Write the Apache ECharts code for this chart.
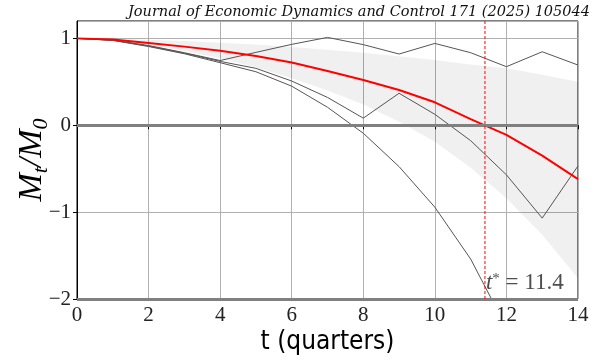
<!DOCTYPE html>
<html>
<head>
<meta charset="utf-8">
<script src="https://cdn.jsdelivr.net/npm/echarts@6/dist/echarts.min.js"></script>
<style>
  html, body { margin: 0; padding: 0; background: #fff; }
  #chart { width: 613px; height: 364px; }
</style>
</head>
<body>
<div id="chart"></div>
<script>
// Horizon in quarters
const quarters = [0, 1, 2, 3, 4, 5, 6, 7, 8, 9, 10, 11, 12, 13, 14];

// Expected path of M_t / M_0
const meanRatio = [1.0, 0.987, 0.947, 0.905, 0.857, 0.797, 0.722, 0.625, 0.52, 0.406, 0.264, 0.07, -0.111, -0.349, -0.62];

// Three simulated sample paths
const pathA = [1.0, 0.98, 0.918, 0.835, 0.745, 0.839, 0.931, 1.011, 0.928, 0.82, 0.942, 0.835, 0.674, 0.846, 0.693];
const pathB = [1.0, 0.978, 0.912, 0.83, 0.735, 0.655, 0.509, 0.32, 0.082, 0.368, 0.126, -0.177, -0.571, -1.069, -0.468];
const pathC = [1.0, 0.977, 0.906, 0.823, 0.72, 0.616, 0.45, 0.207, -0.092, -0.476, -0.943, -1.54, -2.33, -3.3, -4.4];

// Confidence band around the expected path
const bandLower = [1.0, 0.975, 0.925, 0.855, 0.77, 0.665, 0.54, 0.4, 0.24, 0.04, -0.19, -0.49, -0.84, -1.26, -1.76];
const bandUpper = [1.0, 0.995, 0.985, 0.97, 0.95, 0.93, 0.9, 0.87, 0.835, 0.795, 0.75, 0.70, 0.655, 0.58, 0.50];

// Crossing time and axis range
const tStar = 11.4;
const yMin = -2;
const yMax = 1.2;
const yTicks = [-2, -1, 0, 1];

const pairs = arr => quarters.map((t, i) => [t, arr[i]]);
const minus = v => (v < 0 ? '\u2212' + Math.abs(v) : String(v));

const serif = 'Liberation Serif';
const chart = echarts.init(document.getElementById('chart'), null, { renderer: 'canvas' });

chart.setOption({
  animation: false,
  backgroundColor: '#ffffff',
  title: {
    text: 'Journal of Economic Dynamics and Control 171 (2025) 105044',
    right: 18,
    top: 0,
    textStyle: { fontFamily: 'DejaVu Serif', fontStyle: 'italic', fontWeight: 'normal', fontSize: 14.5, color: '#111' }
  },
  grid: {
    left: 77, right: 35, top: 21, bottom: 65,
    outerBoundsMode: 'none', containLabel: false,
    show: true, borderColor: '#000', borderWidth: 1, backgroundColor: 'transparent'
  },
  xAxis: {
    type: 'value', min: 0, max: 14, interval: 2,
    name: 't (quarters)', nameLocation: 'middle', nameGap: 30, nameMoveOverlap: false,
    nameTextStyle: { fontFamily: 'DejaVu Sans Condensed, DejaVu Sans', fontSize: 26, color: '#000' },
    axisLine: { show: true, lineStyle: { color: '#000', width: 1 } },
    axisTick: { show: true, length: 4, lineStyle: { color: '#000' } },
    axisLabel: { fontFamily: serif, fontSize: 21, color: '#222', margin: 6, formatter: v => String(v) },
    splitLine: { show: true, lineStyle: { color: '#b0b0b0', width: 1 } }
  },
  yAxis: {
    type: 'value', min: yMin, max: yMax, interval: 1,
    name: '{m|M}{s|t}{m|/M}{s|0}', nameLocation: 'middle', nameGap: 25, nameRotate: 90, nameMoveOverlap: false,
    nameTextStyle: {
      rich: {
        m: { fontFamily: serif, fontStyle: 'italic', fontSize: 34, color: '#000' },
        s: { fontFamily: serif, fontStyle: 'italic', fontSize: 22, color: '#000', verticalAlign: 'bottom', padding: [18, 0, 0, 0] }
      }
    },
    axisLine: { show: true, lineStyle: { color: '#000', width: 1 } },
    axisTick: { show: true, length: 4, lineStyle: { color: '#000' } },
    axisLabel: { fontFamily: serif, fontSize: 21, color: '#222', margin: 6, showMaxLabel: false, formatter: v => (yTicks.includes(v) ? minus(v) : '') },
    splitLine: { show: true, lineStyle: { color: '#b0b0b0', width: 1 } }
  },
  series: [
    {
      // shaded band
      type: 'custom',
      z: 1,
      clip: true,
      data: quarters.map((t, i) => [t, bandLower[i], bandUpper[i]]),
      renderItem: function (params, api) {
        if (params.dataIndex !== 0) return null;
        const pts = [];
        quarters.forEach((t, i) => pts.push(api.coord([t, bandUpper[i]])));
        for (let i = quarters.length - 1; i >= 0; i--) pts.push(api.coord([quarters[i], bandLower[i]]));
        return { type: 'polygon', shape: { points: pts }, style: { fill: 'rgba(0,0,0,0.06)', stroke: null } };
      }
    },
    {
      // horizontal reference lines at 0 and at the lower edge
      type: 'line', data: [], z: 2, color: '#808080',
      markLine: {
        silent: true, symbol: 'none',
        label: { show: false },
        lineStyle: { color: '#808080', width: 3, type: 'solid' },
        data: [{ yAxis: 0 }, { yAxis: yMin }]
      }
    },
    { type: 'line', data: pairs(pathA), symbol: 'none', z: 3, color: '#555', lineStyle: { color: '#555', width: 1 } },
    { type: 'line', data: pairs(pathB), symbol: 'none', z: 3, color: '#555', lineStyle: { color: '#555', width: 1 } },
    { type: 'line', data: pairs(pathC), symbol: 'none', z: 3, color: '#555', clip: true, lineStyle: { color: '#555', width: 1 } },
    { type: 'line', data: pairs(meanRatio), symbol: 'none', z: 4, color: '#ff0000', lineStyle: { color: '#ff0000', width: 2 } },
    {
      // crossing time marker
      type: 'line', data: [[tStar, yMin], [tStar, yMax]], symbol: 'none', z: 5, silent: true,
      color: '#ff0000', lineStyle: { color: '#ff0000', width: 1, type: [3, 2] }
    },
    {
      type: 'scatter', data: [[tStar, -1.82]], symbolSize: 0, z: 6, silent: true,
      label: {
        show: true, position: 'right', distance: 1,
        formatter: '{i|t}{s|*}{n| = ' + tStar + '}',
        rich: {
          i: { fontFamily: serif, fontStyle: 'italic', fontSize: 23, color: '#222' },
          s: { fontFamily: serif, fontSize: 15, color: '#222', verticalAlign: 'top' },
          n: { fontFamily: serif, fontSize: 23, color: '#222' }
        }
      }
    }
  ]
});
</script>
</body>
</html>
